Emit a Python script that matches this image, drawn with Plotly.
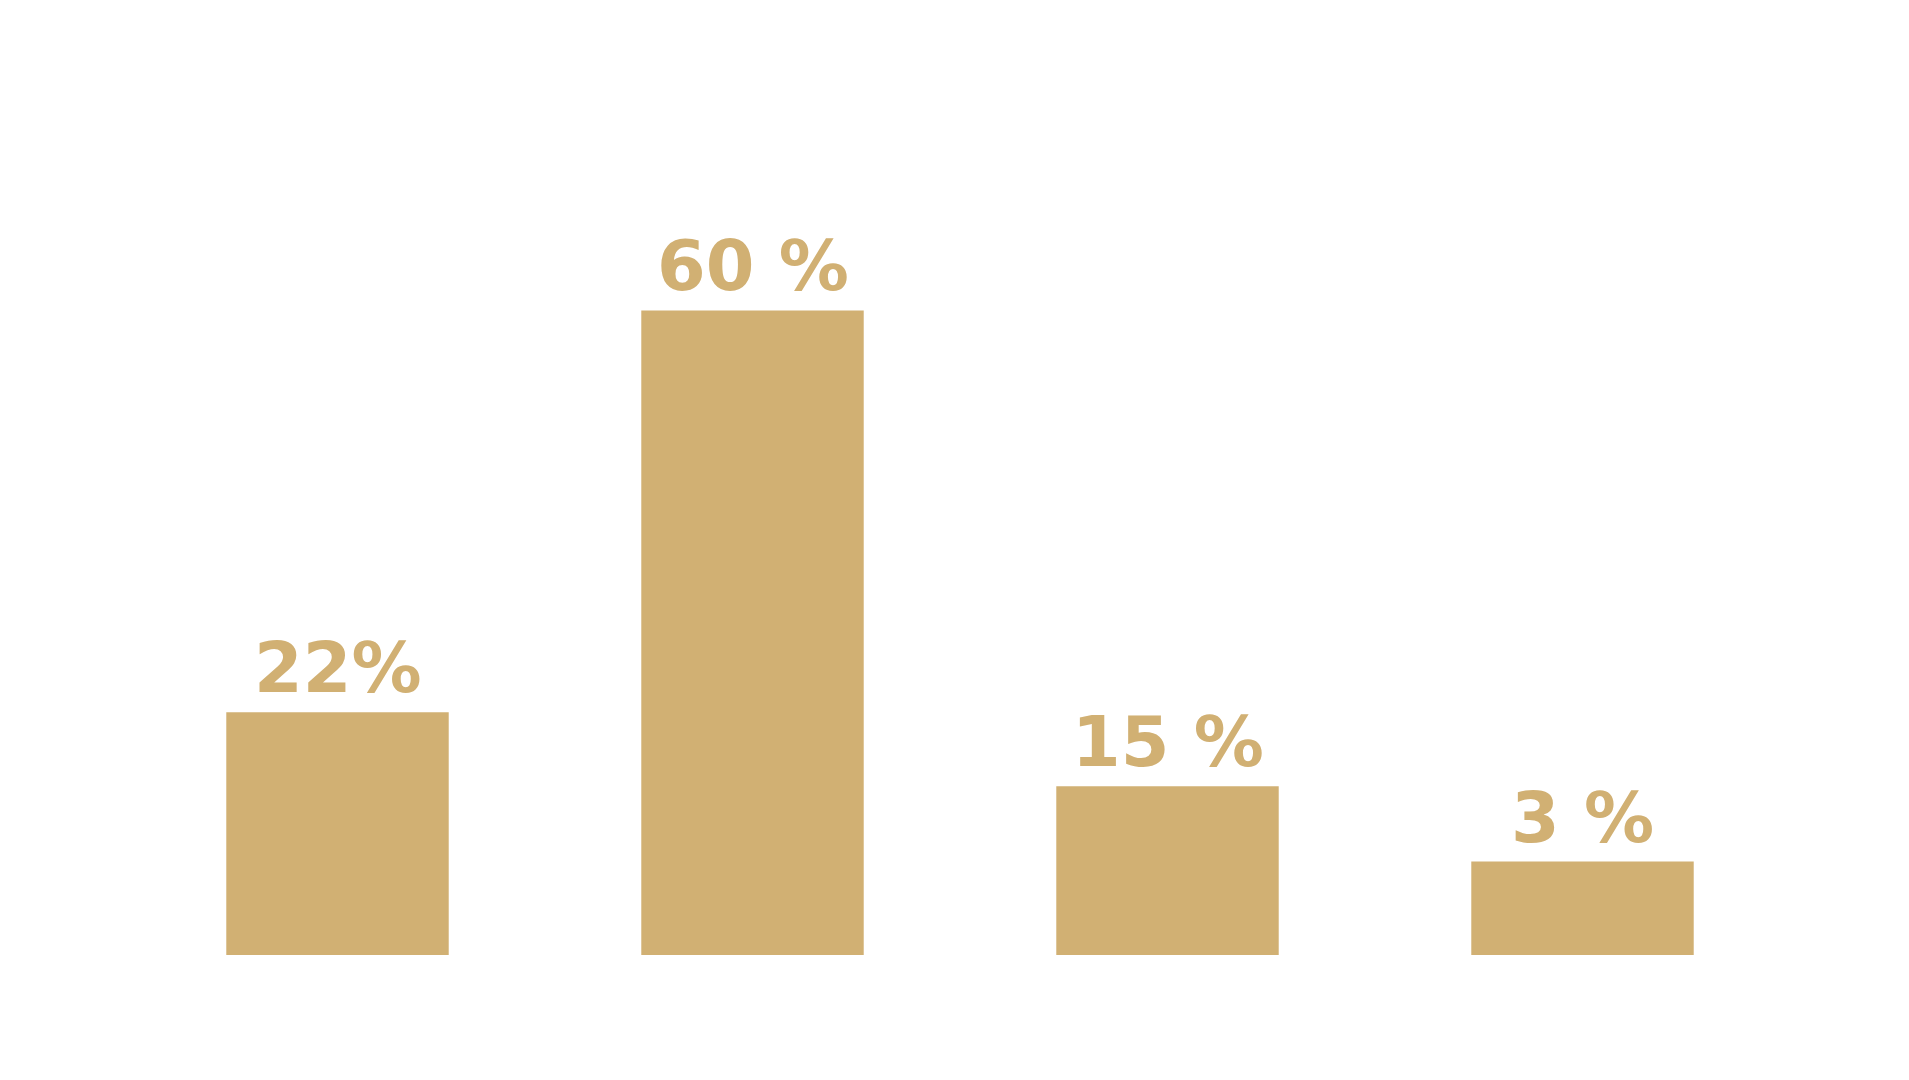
import plotly.graph_objects as go

categories = ["A", "B", "C", "D"]
values = [22.6, 60, 15.7, 8.7]
labels = ["22%", "60 %", "15 %", "3 %"]

gold = "#D1B073"

fig = go.Figure(go.Bar(x=categories, y=values, marker_color=gold, marker_line_width=0))

for c, v, t in zip(categories, values, labels):
    fig.add_annotation(x=c, y=v, text="<b>" + t + "</b>", showarrow=False,
                       yanchor="bottom", yshift=1,
                       font=dict(family="DejaVu Sans", size=70, color=gold))

fig.update_layout(width=1893, height=1064,
                  margin=dict(l=122, r=111, t=195, b=117),
                  paper_bgcolor="white", plot_bgcolor="white",
                  bargap=0.464, showlegend=False)
fig.update_xaxes(visible=False, range=[-0.5, 3.5])
fig.update_yaxes(visible=False, range=[0, 70])

fig.write_html("out.html")
